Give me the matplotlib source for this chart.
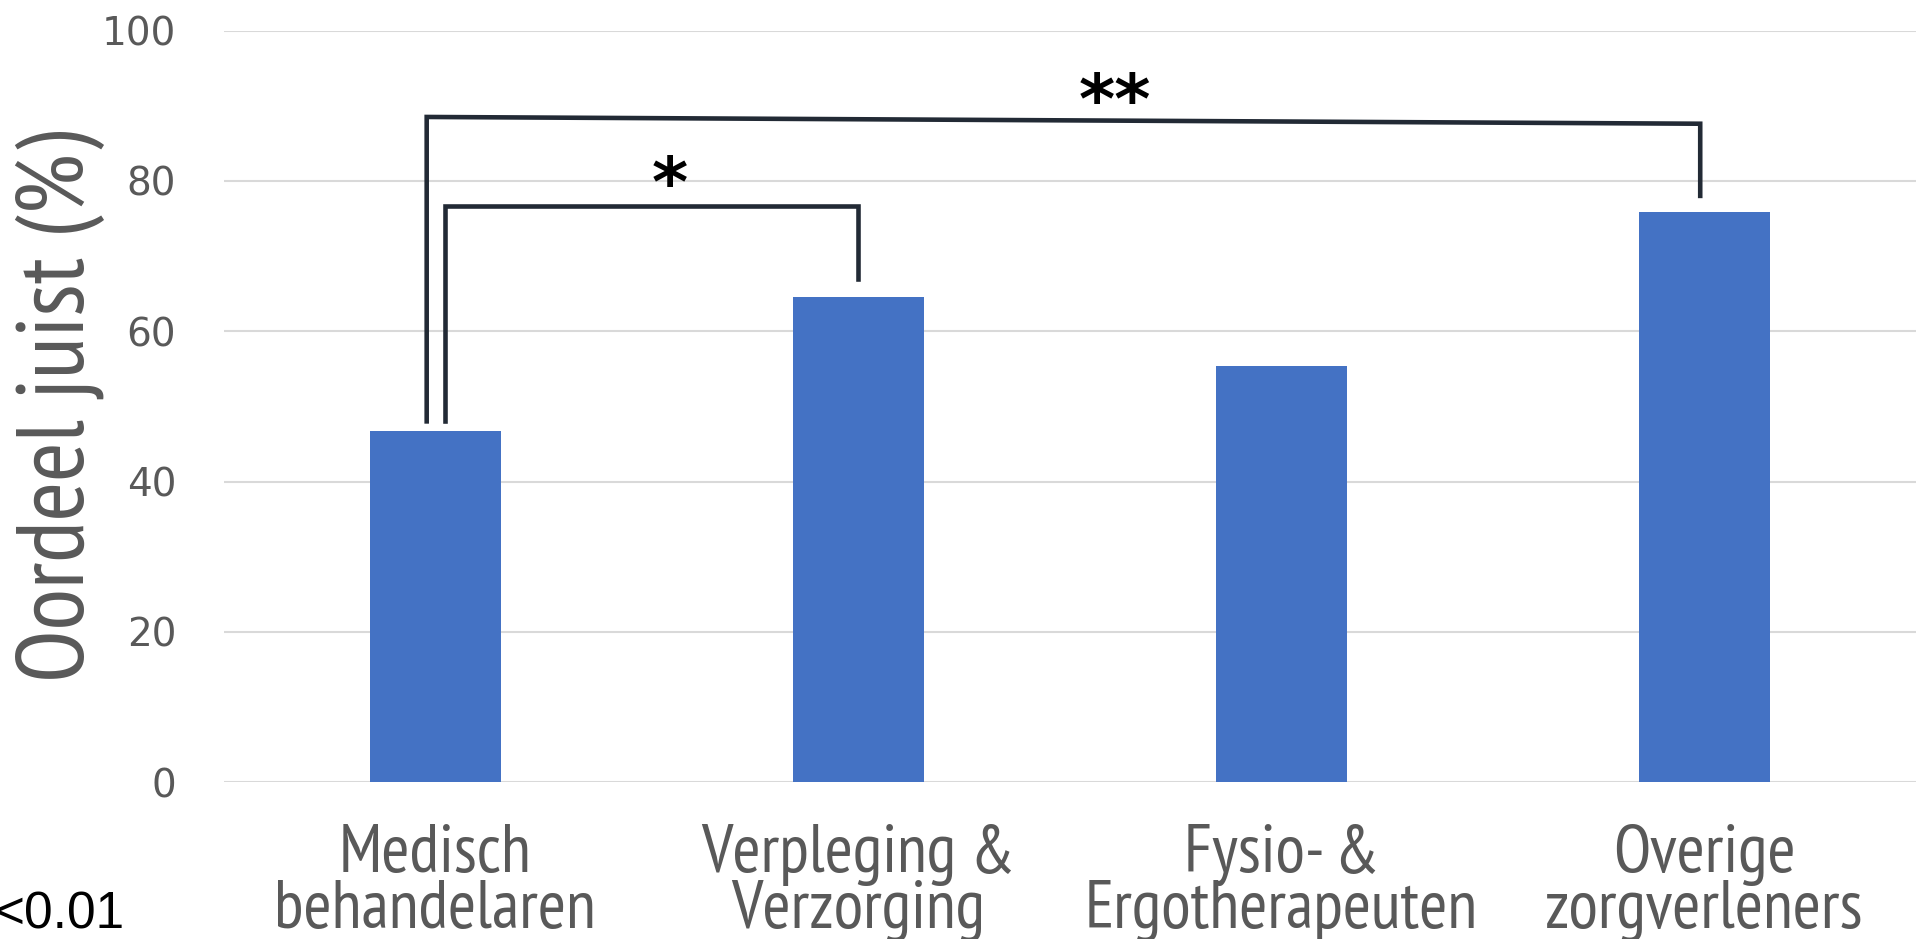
import matplotlib
matplotlib.use("Agg")
import matplotlib.pyplot as plt

categories = ["Medisch\nbehandelaren", "Verpleging &\nVerzorging", "Fysio- &\nErgotherapeuten", "Overige\nzorgverleners"]
values = [46.7, 64.6, 55.4, 75.9]
yticks = [0, 20, 40, 60, 80, 100]

# significance brackets (x in category units, y in %)
bracket_star_x = [0.023, 0.023, 1.0, 1.0]
bracket_star_y = [48.0, 76.7, 76.7, 67.0]
bracket_2star_x = [-0.02, -0.02, 2.99, 2.99]
bracket_2star_y = [48.0, 88.5, 87.6, 78.0]
star_labels = ["*", "**"]
star_pos_x = [0.555, 1.606]
star_pos_y = [79.2, 90.3]

narrow = ["PT Sans Narrow", "Roboto Condensed", "Ubuntu Condensed", "Fira Sans Condensed", "DejaVu Sans"]

fig = plt.figure(figsize=(19.16, 9.39), dpi=100)
ax = fig.add_axes([0.1167, 0.167, 0.8833, 0.8005])

x = list(range(len(categories)))
ax.bar(x, values, width=0.31, color="#4472c4", zorder=2)

ax.set_xlim(-0.5, 3.5)
ax.set_ylim(0, 100)
ax.set_yticks(yticks)
ax.yaxis.grid(True, color="#d9d9d9", linewidth=1.5, zorder=0)
ax.set_axisbelow(True)
for s in ax.spines.values():
    s.set_visible(False)
ax.tick_params(axis="both", length=0)
ax.tick_params(axis="y", pad=34, labelsize=28, labelcolor="#595959")
ax.tick_params(axis="x", pad=30, labelcolor="#595959")
ax.set_xticks(x)
ax.set_xticklabels(categories, fontsize=49, family=narrow, linespacing=0.88)

ax.set_ylabel("Oordeel juist (%)", fontsize=69, color="#595959", family=narrow)
ax.yaxis.set_label_coords(-0.07, 0.5)

lc = "#222a35"
ax.plot(bracket_star_x, bracket_star_y, color=lc, linewidth=3.3, solid_joinstyle="miter", clip_on=False, zorder=3)
ax.plot(bracket_2star_x, bracket_2star_y, color=lc, linewidth=3.3, solid_joinstyle="miter", clip_on=False, zorder=3)
for lab, sx, sy in zip(star_labels, star_pos_x, star_pos_y):
    ax.text(sx, sy, lab, ha="center", va="center", fontsize=50, fontweight="bold", color="black")

fig.text(-0.003, 0.026, "<0.01", ha="left", va="center", fontsize=37,
         family=["Liberation Sans", "DejaVu Sans"], color="black")

fig.savefig("out.png", dpi=100)
